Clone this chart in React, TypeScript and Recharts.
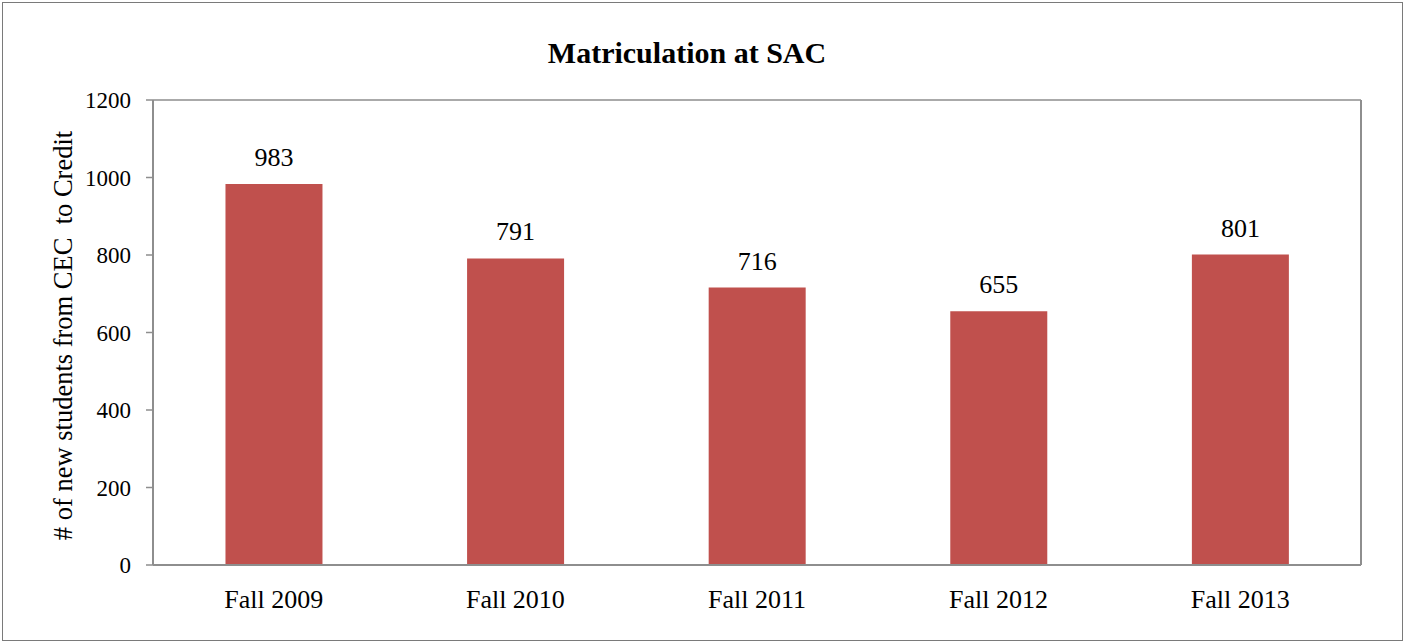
import React from "react";
import { BarChart, Bar, XAxis, YAxis, CartesianGrid, LabelList, Label } from "recharts";

const categories = ["Fall 2009", "Fall 2010", "Fall 2011", "Fall 2012", "Fall 2013"];
const students = [983, 791, 716, 655, 801];
const yTicks = [0, 200, 400, 600, 800, 1000, 1200];

const data = categories.map((c, i) => ({ name: c, value: students[i] }));

const FONT = "'Liberation Serif', 'Times New Roman', serif";
const GRID = "#8e8e8e";

const YLabel = (props: any) => {
  const vb = props.viewBox || {};
  const x = vb.x + 9;
  const y = vb.y + vb.height / 2 + 3;
  return (
    <text
      x={x}
      y={y}
      transform={`rotate(-90, ${x}, ${y})`}
      textAnchor="middle"
      fontFamily={FONT}
      fontSize={26.5}
      fill="#000"
    >
      # of new students from CEC{"\u00a0\u00a0"}to Credit
    </text>
  );
};

export default function App() {
  return (
    <div style={{ position: "absolute", left: 0, top: 0, width: 1404, height: 642, background: "#fff" }}>
      <div
        style={{
          position: "absolute",
          left: 2,
          top: 2,
          width: 1401,
          height: 639,
          boxSizing: "border-box",
          border: "1px solid #7a7a7a",
        }}
      />
      <div
        style={{
          position: "absolute",
          left: 487,
          top: 38,
          width: 400,
          textAlign: "center",
          fontFamily: FONT,
          fontWeight: "bold",
          fontSize: 30,
          lineHeight: "30px",
          color: "#000",
          whiteSpace: "nowrap",
        }}
      >
        Matriculation at SAC
      </div>
      <div style={{ position: "absolute", left: 0, top: 0 }}>
        <BarChart
          width={1404}
          height={642}
          data={data}
          margin={{ top: 100, right: 42, left: 63, bottom: 47 }}
          barCategoryGap="30%"
        >
          <CartesianGrid horizontal={true} vertical={false} stroke={GRID} strokeWidth={1.5} />
          <XAxis
            dataKey="name"
            tickLine={false}
            tickSize={0}
            tickMargin={25}
            height={30}
            axisLine={{ stroke: GRID, strokeWidth: 2 }}
            tick={{ fontFamily: FONT, fontSize: 26, fill: "#000" }}
            interval={0}
          />
          <YAxis
            yAxisId="left"
            domain={[0, 1200]}
            ticks={yTicks}
            width={90}
            tickSize={7}
            tickMargin={15}
            tickLine={{ stroke: GRID, strokeWidth: 1.5 }}
            axisLine={{ stroke: GRID, strokeWidth: 2 }}
            tick={{ fontFamily: FONT, fontSize: 23, fill: "#000" }}
            interval={0}
          >
            <Label content={<YLabel />} />
          </YAxis>
          <YAxis
            yAxisId="right"
            orientation="right"
            domain={[0, 1200]}
            width={1}
            tick={false}
            tickLine={false}
            axisLine={{ stroke: GRID, strokeWidth: 2 }}
          />
          <Bar yAxisId="left" dataKey="value" fill="#C0504D" isAnimationActive={false}>
            <LabelList
              dataKey="value"
              position="top"
              offset={18}
              style={{ fontFamily: FONT, fontSize: 26, fill: "#000" }}
            />
          </Bar>
        </BarChart>
      </div>
    </div>
  );
}
